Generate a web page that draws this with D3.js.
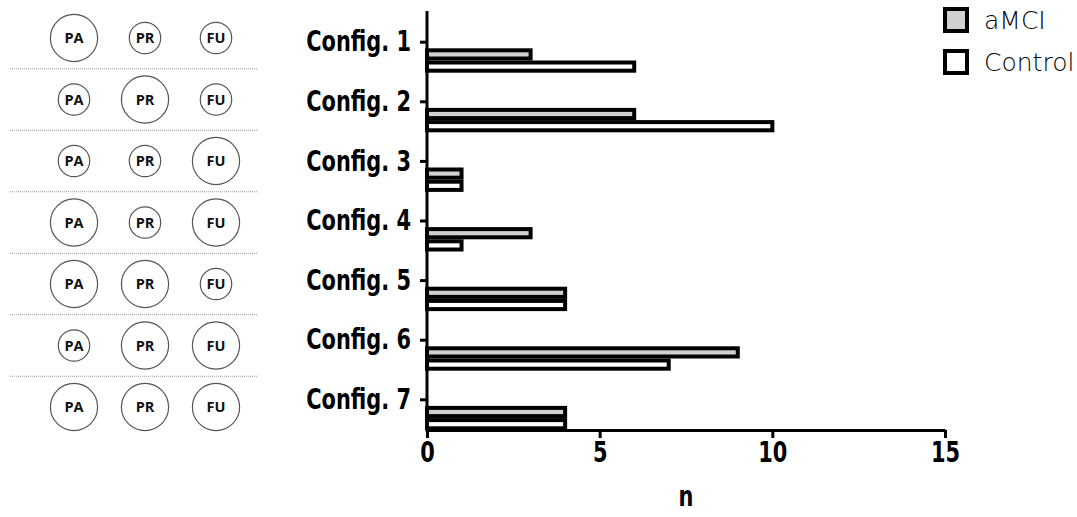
<!DOCTYPE html>
<html>
<head>
<meta charset="utf-8">
<script src="https://cdn.jsdelivr.net/npm/d3@7"></script>
<style>
  body { margin: 0; background: #fff; }
  svg { display: block; }
  .cat text, .xax text, .xlabel { font-family: "DejaVu Sans Condensed", "DejaVu Sans", sans-serif; font-weight: bold; font-stretch: condensed; fill: #000; }
  .legend text { font-family: "DejaVu Sans", sans-serif; font-weight: 200; fill: #000; }
  .circ text { font-family: "Open Sans", "Liberation Sans", sans-serif; font-weight: bold; fill: #111; }
</style>
</head>
<body>
<div id="chart"></div>
<script>
"use strict";

var configs = ["Config. 1", "Config. 2", "Config. 3", "Config. 4", "Config. 5", "Config. 6", "Config. 7"];
var series = ["aMCI", "Control"];
var amci = [3, 6, 1, 3, 4, 9, 4];
var control = [6, 10, 1, 1, 4, 7, 4];
var xTicks = [0, 5, 10, 15];

// left panel: circle size per config (L = large, S = small) for PA / PR / FU
var parts = ["PA", "PR", "FU"];
var sizes = [
  ["L", "S", "S"],
  ["S", "L", "S"],
  ["S", "S", "L"],
  ["L", "S", "L"],
  ["L", "L", "S"],
  ["S", "L", "L"],
  ["L", "L", "L"]
];

var W = 1077, H = 517;
var sx = 0.83; // horizontal squeeze of the bold labels
var svg = d3.select("#chart").append("svg").attr("width", W).attr("height", H);

var data = configs.map(function (c, i) {
  return { config: c, values: [{ key: "aMCI", v: amci[i] }, { key: "Control", v: control[i] }] };
});

var x = d3.scaleLinear().domain([0, 15]).range([427, 945]);
var yTick = d3.scalePoint().domain(configs).range([41.7, 399.3]);
var ySub = d3.scaleBand().domain(series).range([6.6, 31]);
var fill = d3.scaleOrdinal().domain(series).range(["#d0d0d0", "#ffffff"]);
var axisY = 430;

// bars
var groups = svg.append("g").selectAll("g").data(data).enter().append("g")
  .attr("transform", function (d) { return "translate(0," + yTick(d.config) + ")"; });

groups.selectAll("rect").data(function (d) { return d.values; }).enter().append("rect")
  .attr("x", x(0))
  .attr("y", function (d) { return ySub(d.key) + 2; })
  .attr("width", function (d) { return x(d.v) - x(0); })
  .attr("height", ySub.bandwidth() - 4)
  .attr("fill", function (d) { return fill(d.key); })
  .attr("stroke", "#000")
  .attr("stroke-width", 4);

// y axis
svg.append("line").attr("x1", x(0)).attr("x2", x(0)).attr("y1", 11).attr("y2", axisY + 1.5)
  .attr("stroke", "#000").attr("stroke-width", 3);

var yAxis = svg.append("g").attr("class", "cat").attr("transform", "translate(" + x(0) + ",0)")
  .call(d3.axisLeft(yTick).tickSize(7).tickPadding(9));
yAxis.select(".domain").remove();
yAxis.selectAll(".tick line").attr("stroke", "#000").attr("stroke-width", 3);
yAxis.selectAll(".tick text").attr("font-size", 28).attr("dy", "0.33em")
  .attr("x", -16 / sx).attr("transform", "scale(" + sx + ",1)");

// x axis
var xAxis = svg.append("g").attr("class", "xax").attr("transform", "translate(0," + axisY + ")")
  .call(d3.axisBottom(x).tickValues(xTicks).tickSize(8).tickPadding(4).tickSizeOuter(0));
xAxis.select(".domain").attr("stroke", "#000").attr("stroke-width", 3);
xAxis.selectAll(".tick line").attr("stroke", "#000").attr("stroke-width", 3);
xAxis.selectAll(".tick text").attr("font-size", 28).attr("transform", "scale(" + sx + ",1)");

svg.append("text").attr("class", "xlabel")
  .attr("transform", "translate(" + (x(0) + x(15)) / 2 + ",506) scale(" + sx + ",1)")
  .attr("text-anchor", "middle").attr("font-size", 28).text("n");

// legend
var legend = svg.append("g").attr("class", "legend");
var legY = d3.scalePoint().domain(series).range([9, 51]);
legend.selectAll("rect").data(series).enter().append("rect")
  .attr("x", 945).attr("y", function (d) { return legY(d); })
  .attr("width", 22).attr("height", 22)
  .attr("fill", function (d) { return fill(d); })
  .attr("stroke", "#000").attr("stroke-width", 4);
legend.selectAll("text").data(series).enter().append("text")
  .attr("x", 984).attr("y", function (d) { return legY(d) + 20; })
  .attr("font-size", 25).text(function (d) { return d; });

// left panel with circles
var rowY = d3.scalePoint().domain(configs).range([38, 407]);
var colX = d3.scalePoint().domain(parts).range([74, 216]);
var rScale = d3.scaleOrdinal().domain(["S", "L"]).range([15.7, 23.6]);

var step = rowY.step();
svg.append("g").selectAll("line").data(configs.slice(1)).enter().append("line")
  .attr("x1", 10).attr("x2", 257)
  .attr("y1", function (d) { return rowY(d) - step / 2; })
  .attr("y2", function (d) { return rowY(d) - step / 2; })
  .attr("stroke", "#9a9a9a").attr("stroke-width", 1).attr("stroke-dasharray", "1,1");

var rows = svg.append("g").attr("class", "circ").selectAll("g").data(configs).enter().append("g")
  .attr("transform", function (d) { return "translate(0," + rowY(d) + ")"; });

var cells = rows.selectAll("g").data(function (d, i) {
  return parts.map(function (p, j) { return { part: p, size: sizes[i][j] }; });
}).enter().append("g")
  .attr("transform", function (d) { return "translate(" + colX(d.part) + ",0)"; });

cells.append("circle").attr("r", function (d) { return rScale(d.size); })
  .attr("fill", "#fff").attr("stroke", "#555").attr("stroke-width", 1.2);
cells.append("text").attr("text-anchor", "middle").attr("dy", "0.36em")
  .attr("font-size", 14.5).text(function (d) { return d.part; });
</script>
</body>
</html>
